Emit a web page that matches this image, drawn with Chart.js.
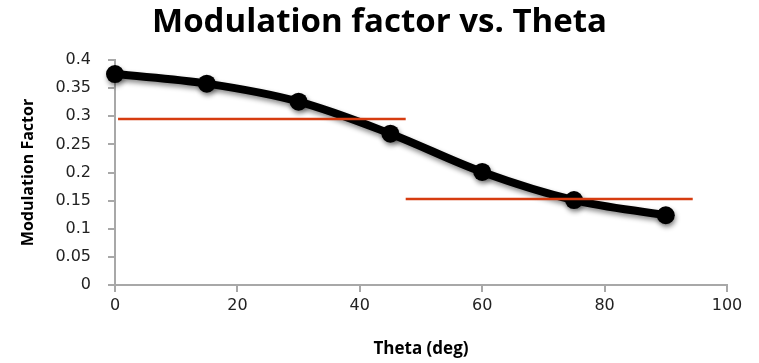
<!DOCTYPE html>
<html>
<head>
<meta charset="utf-8">
<script src="https://cdn.jsdelivr.net/npm/chart.js@4/dist/chart.umd.min.js"></script>
<style>
  html, body { margin: 0; padding: 0; background: #fff; }
  #wrap { width: 759px; height: 363px; }
</style>
</head>
<body>
<div id="wrap"><canvas id="modulation-graph" width="759" height="363"></canvas></div>
<script>
/**
 * Chart data
 */
const thetaDeg = [0, 15, 30, 45, 60, 75, 90];
const modulationFactor = [0.375, 0.358, 0.326, 0.269, 0.201, 0.151, 0.124];

// the two red reference levels
const lowThetaRange = [0.5, 47.5];
const lowThetaLevel = 0.295;
const highThetaRange = [47.5, 94.4];
const highThetaLevel = 0.153;

const xTickValues = [0, 20, 40, 60, 80, 100];
const yTickValues = [0, 0.05, 0.1, 0.15, 0.2, 0.25, 0.3, 0.35, 0.4];

const axisGrey = '#a8a8a8';
const redLine = 'rgb(214, 60, 16)';

//soft shadow under the black curve, like the original
const shadowPlugin = {
    id: 'curveShadow',
    beforeDatasetDraw(chart, args) {
        if (args.index !== 0) return;
        const ctx = chart.ctx;
        ctx.save();
        ctx.shadowColor = 'rgba(0, 0, 0, 0.45)';
        ctx.shadowBlur = 5;
        ctx.shadowOffsetX = 1;
        ctx.shadowOffsetY = 3;
    },
    afterDatasetDraw(chart, args) {
        if (args.index !== 0) return;
        chart.ctx.restore();
    }
};

let modulationChartData = {
    datasets: [
        {
            label: 'Modulation factor',
            data: thetaDeg.map((t, i) => ({ x: t, y: modulationFactor[i] })),
            borderColor: '#000',
            backgroundColor: '#000',
            borderWidth: 8,
            borderCapStyle: 'round',
            borderJoinStyle: 'round',
            pointRadius: 9,
            pointBorderWidth: 0,
            tension: 0.35,
            clip: false,
            order: 2
        },
        {
            label: 'low theta',
            data: lowThetaRange.map(x => ({ x: x, y: lowThetaLevel })),
            borderColor: redLine,
            borderWidth: 2.5,
            pointRadius: 0,
            clip: false,
            order: 0
        },
        {
            label: 'high theta',
            data: highThetaRange.map(x => ({ x: x, y: highThetaLevel })),
            borderColor: redLine,
            borderWidth: 2.5,
            pointRadius: 0,
            clip: false,
            order: 0
        }
    ]
};

let modulationConfig = {
    type: 'line',
    data: modulationChartData,
    plugins: [shadowPlugin],
    options: {
        responsive: false,
        animation: false,
        layout: {
            padding: 0
        },
        plugins: {
            legend: { display: false },
            tooltip: { enabled: false },
            title: {
                display: true,
                text: 'Modulation factor vs. Theta',
                color: '#000',
                font: { family: 'Open Sans', size: 33, weight: 'bold', lineHeight: 1.2 },
                padding: { top: 3, bottom: 17.4 }
            }
        },
        scales: {
            x: {
                type: 'linear',
                min: 0,
                max: 100,
                afterBuildTicks: axis => { axis.ticks = xTickValues.map(v => ({ value: v })); },
                afterFit: axis => { axis.height = 78; },
                border: { color: axisGrey, width: 2 },
                grid: {
                    drawOnChartArea: false,
                    color: axisGrey,
                    lineWidth: 2,
                    tickLength: 7
                },
                ticks: {
                    color: '#222',
                    padding: 4,
                    maxRotation: 0,
                    font: { family: 'DejaVu Sans', size: 16 }
                },
                title: {
                    display: true,
                    text: 'Theta (deg)',
                    color: '#000',
                    font: { family: 'Open Sans', size: 17, weight: 'bold', lineHeight: 1.2 },
                    padding: { top: 0, bottom: 4 }
                }
            },
            y: {
                type: 'linear',
                min: 0,
                max: 0.4,
                afterBuildTicks: axis => { axis.ticks = yTickValues.map(v => ({ value: v })); },
                afterFit: axis => { axis.width = 115; },
                border: { color: axisGrey, width: 2 },
                grid: {
                    drawOnChartArea: false,
                    color: axisGrey,
                    lineWidth: 2,
                    tickLength: 7
                },
                ticks: {
                    color: '#222',
                    padding: 17,
                    font: { family: 'DejaVu Sans', size: 16 },
                    callback: value => String(Math.round(value * 100) / 100)
                },
                title: {
                    display: true,
                    text: 'Modulation Factor',
                    color: '#000',
                    font: { family: 'Open Sans', size: 16, weight: 'bold', lineHeight: 1.2 },
                    padding: { top: 19, bottom: 0 }
                }
            },
            // empty space on the right so the title stays centred on the page
            rightSpace: {
                type: 'linear',
                position: 'right',
                afterFit: axis => { axis.width = 32; },
                border: { display: false },
                grid: { display: false },
                ticks: { display: false }
            }
        }
    }
};

const modulationChart = new Chart(
    document.getElementById('modulation-graph'),
    modulationConfig
);
</script>
</body>
</html>
